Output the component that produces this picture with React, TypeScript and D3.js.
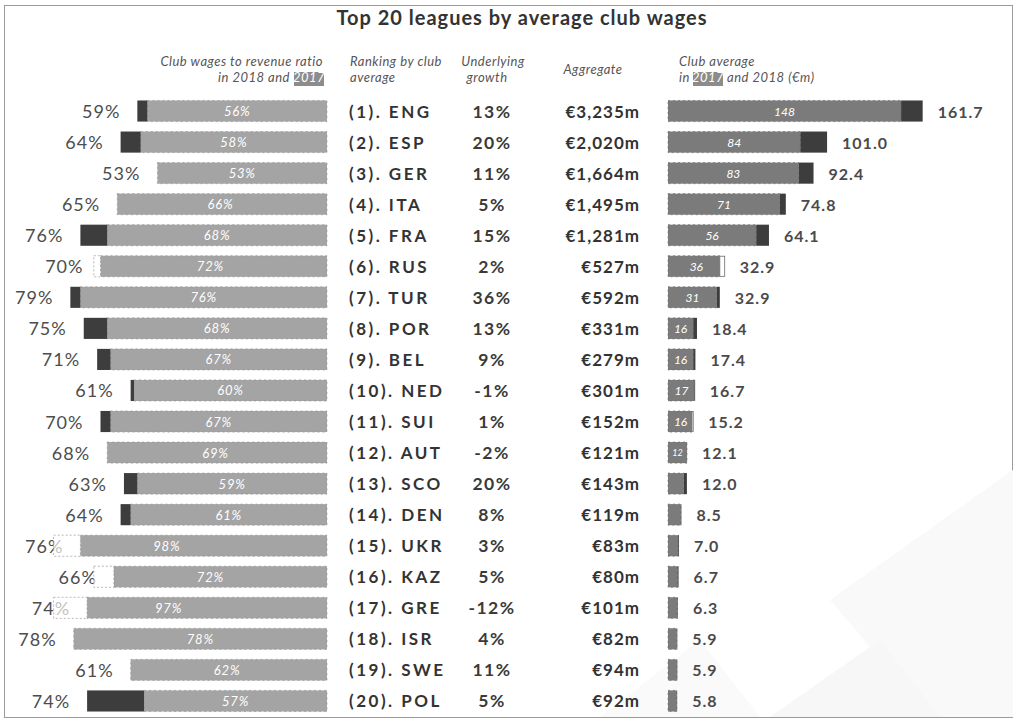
import React from "react";
import * as d3 from "d3";

const codes = ["ENG","ESP","GER","ITA","FRA","RUS","TUR","POR","BEL","NED","SUI","AUT","SCO","DEN","UKR","KAZ","GRE","ISR","SWE","POL"];
const ratio2018 = [59,64,53,65,76,70,79,75,71,61,70,68,63,64,76,66,74,78,61,74];
const ratio2017 = [56,58,53,66,68,72,76,68,67,60,67,69,59,61,98,72,97,78,62,57];
const growth = [13,20,11,5,15,2,36,13,9,-1,1,-2,20,8,3,5,-12,4,11,5];
const aggregate = [3235,2020,1664,1495,1281,527,592,331,279,301,152,121,143,119,83,80,101,82,94,92];
const avg2017 = [148,84,83,71,56,36,31,16,16,17,16,12,10,8,6.5,6,6,5.5,5.5,5.5];
const avg2018 = [161.7,101.0,92.4,74.8,64.1,32.9,32.9,18.4,17.4,16.7,15.2,12.1,12.0,8.5,7.0,6.7,6.3,5.9,5.9,5.8];

const W = 1017, H = 718;
const FONT = "Lato, 'Open Sans', sans-serif";
const LEFT_GRAY = "#a4a4a4";
const RIGHT_GRAY = "#7b7b7b";
const DARK = "#3d3d3d";

export default function App() {
  const y = d3.scaleBand<string>().domain(codes).range([95.5, 716.5]).paddingInner(0.32).paddingOuter(0.16);
  const bh = y.bandwidth();
  const xL = d3.scaleLinear().domain([0, 100]).range([335, 0]);
  const leftEdge = 327;
  const leftClip = 84;
  const xR = d3.scaleLinear().domain([0, 100]).range([668, 825.5]);
  const fmtAgg = d3.format(",");
  const fmt1 = d3.format(".1f");

  return (
    <svg width={W} height={H} style={{ position: "absolute", left: 0, top: 0, background: "#fff" }} fontFamily={FONT}>
      <rect x={4.5} y={5.5} width={1008} height={712} fill="#fff" stroke="#9a9a9a" />
      {/* faint background shapes */}
      <g>
        <polygon points="830,600 1013,470 1013,717 930,717" fill="#f9f9f9" />
        <polygon points="770,717 880,640 940,717" fill="#f7f7f7" />
        <polygon points="600,717 700,640 760,717" fill="#fafafa" />
      </g>

      <text x={522} y={25} textAnchor="middle" fontSize={20} fontWeight={700} fill="#333" letterSpacing={1}>Top 20 leagues by average club wages</text>

      {/* column headers */}
      <g fontStyle="italic" fontSize={13} fill="#555" letterSpacing={0.5}>
        <text x={323} y={66} textAnchor="end">Club wages  to revenue ratio</text>
        <rect x={294} y={72} width={30} height={14} fill="#8c8c8c" />
        <text x={290} y={82} textAnchor="end">in 2018 and</text>
        <text x={309} y={82} textAnchor="middle" fill="#fff">2017</text>
        <text x={350} y={66}>Ranking by club</text>
        <text x={350} y={82}>average</text>
        <text x={493} y={66} textAnchor="middle">Underlying</text>
        <text x={487} y={82} textAnchor="middle">growth</text>
        <text x={593} y={74} textAnchor="middle">Aggregate</text>
        <text x={679} y={66}>Club average</text>
        <text x={679} y={82}>in</text>
        <rect x={693} y={72} width={30} height={14} fill="#8c8c8c" />
        <text x={708} y={82} textAnchor="middle" fill="#fff">2017</text>
        <text x={727} y={82}>and 2018 (€m)</text>
      </g>

      {codes.map((c, i) => {
        const y0 = y(c)!;
        const cy = y0 + bh / 2;
        const r18 = ratio2018[i], r17 = ratio2017[i];
        const grayStart = xL(Math.min(r18, r17));
        const a17 = avg2017[i], a18 = avg2018[i];
        const grayEndR = xR(Math.min(a17, a18));
        const labelCx = (xL(r17) + leftEdge) / 2;
        return (
          <g key={c}>
            {/* left ratio bars */}
            <rect x={grayStart} y={y0} width={leftEdge - grayStart} height={bh} fill={LEFT_GRAY} stroke="#8f8f8f" strokeWidth={0.6} strokeDasharray="2,3" />
            {r18 > r17 && (
              <rect x={xL(r18)} y={y0} width={xL(r17) - xL(r18)} height={bh} fill={DARK} />
            )}
            <text x={xL(r18) - 17} y={cy} dominantBaseline="central" textAnchor="end" fontSize={18} fill="#4d4d4d" letterSpacing={1}>{r18}%</text>
            {r17 - r18 > 1 && (
              <rect x={xL(Math.min(r17, leftClip))} y={y0} width={xL(r18) - xL(Math.min(r17, leftClip))} height={bh} fill="#fff" fillOpacity={0.65} stroke="#9a9a9a" strokeWidth={0.7} strokeDasharray="2,2" />
            )}
            <text x={labelCx} y={cy} dominantBaseline="central" textAnchor="middle" fontSize={13} fontStyle="italic" fill="#fff" letterSpacing={0.8}>{r17}%</text>

            {/* middle text columns */}
            <text x={349} y={cy} dominantBaseline="central" fontSize={17} fontWeight={700} fill="#333" letterSpacing={2.5}>{`(${i + 1}). ${c}`}</text>
            <text x={492} y={cy} dominantBaseline="central" textAnchor="middle" fontSize={17.5} fontWeight={700} fill="#3a3a3a" letterSpacing={1.5}>{growth[i]}%</text>
            <text x={640} y={cy} dominantBaseline="central" textAnchor="end" fontSize={17} fontWeight={700} fill="#333" letterSpacing={1}>{"€" + fmtAgg(aggregate[i]) + "m"}</text>

            {/* right average bars */}
            <rect x={xR(0)} y={y0} width={grayEndR - xR(0)} height={bh} fill={RIGHT_GRAY} stroke="#666" strokeWidth={0.6} strokeDasharray="2,3" />
            {a18 > a17 && (
              <rect x={xR(a17)} y={y0} width={xR(a18) - xR(a17)} height={bh} fill={DARK} />
            )}
            {a17 > a18 && (
              <rect x={xR(a18)} y={y0 + 0.5} width={xR(a17) - xR(a18)} height={bh - 1} fill="#fff" stroke="#6a6a6a" strokeWidth={0.8} />
            )}
            {xR(a17) - xR(0) >= 18 && (
              <text x={(xR(0) + xR(a17)) / 2} y={cy} dominantBaseline="central" textAnchor="middle" fontSize={xR(a17) - xR(0) < 24 ? 9 : 12} fontStyle="italic" fill="#fff">{a17}</text>
            )}
            <text x={xR(Math.max(a17, a18)) + 15} y={cy} dominantBaseline="central" fontSize={16} fontWeight={700} fill="#4a4a4a" letterSpacing={1}>{fmt1(a18)}</text>
          </g>
        );
      })}
    </svg>
  );
}
